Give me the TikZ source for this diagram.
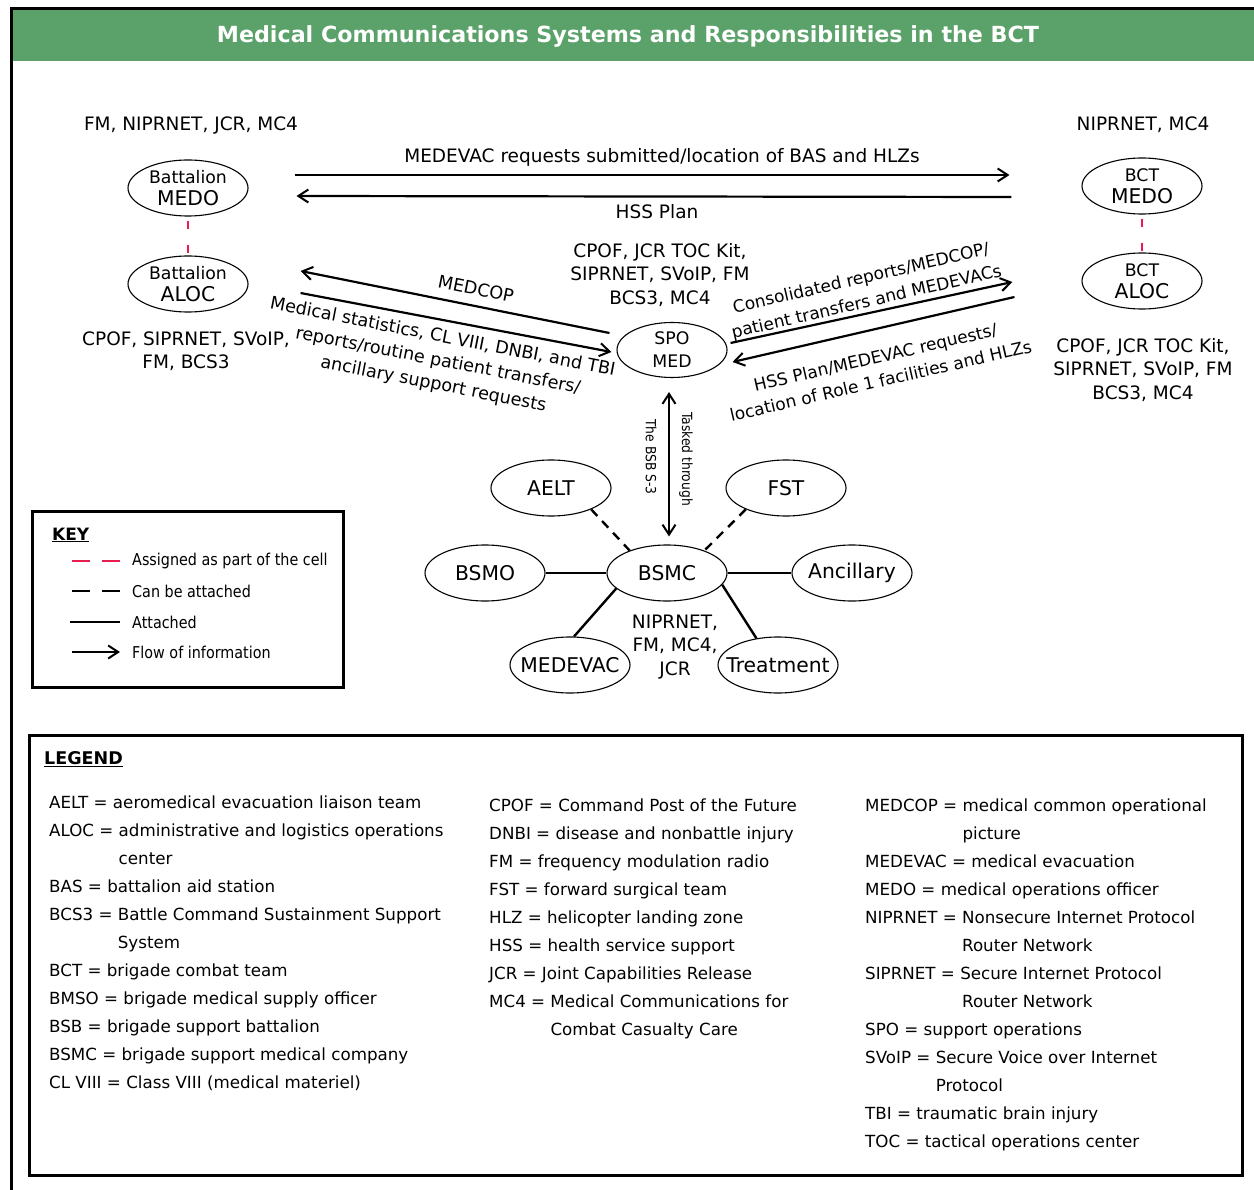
\documentclass[tikz,border=0pt]{standalone}
\usepackage{fontspec}
\setmainfont{DejaVu Sans}
\newfontfamily\condfont[FakeStretch=0.88]{DejaVu Sans}
\usetikzlibrary{shapes.geometric,arrows.meta,calc}
\definecolor{hdrgreen}{RGB}{91,162,106}
\definecolor{cellred}{RGB}{232,28,78}
\begin{document}
\begin{tikzpicture}[x=1pt,y=-1pt,
  ell/.style={draw, line width=1.1pt, ellipse, minimum width=120pt, minimum height=56pt, inner sep=0pt},
  elltxt/.style={align=center, inner sep=0pt, font=\fontsize{20.3}{22.5}\selectfont},
  lbl/.style={align=center, inner sep=0pt, font=\fontsize{18.5}{23.5}\selectfont},
  rlbl/.style={align=center, inner sep=0pt, font=\fontsize{17.6}{24}\selectfont},
  rrlbl/.style={align=center, inner sep=0pt, font=\fontsize{17}{24}\selectfont},
  vlbl/.style={inner sep=0pt, rotate=-90, font=\condfont\fontsize{14}{16}\selectfont},
  flow/.style={line width=2.2pt, -{Straight Barb[length=10pt,width=13pt,line width=2pt]}},
  flowboth/.style={line width=2.2pt, {Straight Barb[length=10pt,width=13pt,line width=2pt]}-{Straight Barb[length=10pt,width=13pt,line width=2pt]}},
  celldash/.style={draw=cellred, line width=2.8pt, dash pattern=on 8pt off 16pt, dash phase=20pt},
  attachdash/.style={line width=2.4pt, dash pattern=on 9pt off 7pt},
  attached/.style={line width=2.4pt},
  keytxt/.style={anchor=west, inner sep=0pt, font=\condfont\fontsize{16.3}{18}\selectfont},
  legtxt/.style={anchor=base west, inner sep=0pt, font=\fontsize{16.7}{18}\selectfont},
  boxline/.style={line width=3pt}
]
\useasboundingbox (0,0) rectangle (1254,1190);
% header and frame
\fill[hdrgreen] (12,10) rectangle (1254,61);
\draw[line width=3pt] (11,1190) -- (11,9) -- (1254,9);
\node[text=white, font=\bfseries\fontsize{22.2}{24}\selectfont] (title) at (628,36) {Medical Communications Systems and Responsibilities in the BCT};

% ellipse nodes
\node[ell, label={[elltxt]center:{{\fontsize{17.3}{20}\selectfont Battalion}\\MEDO}}] (bmedo) at (188,188) {};
\node[ell, label={[elltxt]center:{{\fontsize{17.3}{20}\selectfont Battalion}\\ALOC}}] (baloc) at (188,284) {};
\node[ell, label={[elltxt]center:{{\fontsize{17.3}{20}\selectfont BCT}\\MEDO}}] (bctmedo) at (1142,186) {};
\node[ell, label={[elltxt]center:{{\fontsize{17.3}{20}\selectfont BCT}\\ALOC}}] (bctaloc) at (1142,281) {};
\node[ell, minimum width=110pt, minimum height=55pt, label={[elltxt, font=\fontsize{17.3}{23}\selectfont]center:{SPO\\MED}}] (spo) at (672,350) {};
\node[ell, label={[elltxt]center:AELT}] (aelt) at (551,488) {};
\node[ell, label={[elltxt]center:FST}] (fst) at (786,488) {};
\node[ell, label={[elltxt]center:BSMO}] (bsmo) at (485,573) {};
\node[ell, label={[elltxt]center:BSMC}] (bsmc) at (667,573) {};
\node[ell, label={[elltxt]center:Ancillary}] (anc) at (852,573) {};
\node[ell, label={[elltxt]center:MEDEVAC}] (medevac) at (570,665) {};
\node[ell, label={[elltxt]center:Treatment}] (treat) at (778,665) {};

% red dashed (assigned as part of the cell)
\draw[celldash] (bmedo) -- (baloc);
\draw[celldash] (bctmedo) -- (bctaloc);

% system labels
\node[lbl] (l1) at (191,125) {FM, NIPRNET, JCR, MC4};
\node[lbl] (l2) at (186,351) {CPOF, SIPRNET, SVoIP,\\FM, BCS3};
\node[lbl] (l3) at (660,275) {CPOF, JCR TOC Kit,\\SIPRNET, SVoIP, FM\\BCS3, MC4};
\node[lbl] (l4) at (1143,125) {NIPRNET, MC4};
\node[lbl] (l5) at (1143,370) {CPOF, JCR TOC Kit,\\SIPRNET, SVoIP, FM\\BCS3, MC4};
\node[lbl] (l6) at (675,647) {NIPRNET,\\FM, MC4,\\JCR};

% top arrows
\draw[flow] ($(bmedo.east)+(46,-13)$) -- ($(bctmedo.west)+(-72,-11)$);
\draw[flow] ($(bctmedo.west)+(-70,11)$) -- ($(bmedo.east)+(48,8)$);
\node[lbl] (t1) at (662,157) {MEDEVAC requests submitted/location of BAS and HLZs};
\node[lbl] (t2) at (657,212) {HSS Plan};

% left arrows
\draw[flow] ($(spo.west)+(-7,-17)$) -- ($(baloc.east)+(52,-13)$);
\draw[flow] ($(baloc.east)+(52,9)$) -- ($(spo.west)+(-5,2)$);
\node[rlbl, rotate=-11.3] (t3) at (476,289) {MEDCOP};
\node[rlbl, rotate=-11] (t4) at (438,361) {Medical statistics, CL VIII, DNBI, and TBI\\reports/routine patient transfers/\\ancillary support requests};

% right arrows
\draw[flow] ($(spo.east)+(3,-7)$) -- ($(bctaloc.west)+(-69,1)$);
\draw[flow] ($(bctaloc.west)+(-67,16)$) -- ($(spo.east)+(5,12)$);
\node[rrlbl, rotate=13] (t5) at (864,291) {Consolidated reports/MEDCOP/\\patient transfers and MEDEVACs};
\node[rrlbl, rotate=13] (t6) at (878,369) {HSS Plan/MEDEVAC requests/\\location of Role 1 facilities and HLZs};

% vertical tasking arrow
\draw[flowboth] ($(spo.south)+(-3,14)$) -- ($(bsmc.north)+(2,-8)$);
\node[vlbl] (t7) at (651,457) {The BSB S-3};
\node[vlbl] (t8) at (686,459) {Tasked through};

% BSMC connections
\draw[attachdash] (aelt.-28) -- (bsmc.149);
\draw[attachdash] (fst.-152) -- (bsmc.31);
\draw[attached] (bsmo) -- (bsmc);
\draw[attached] (bsmc) -- (anc);
\draw[attached] (bsmc.-163) -- (medevac.82);
\draw[attached] (bsmc.-12) -- (treat.129);

% KEY
\draw[boxline] (32,511) rectangle (343,687);
\node[anchor=west, inner sep=0pt, font=\bfseries\fontsize{17}{20}\selectfont] (keyt) at (52,535) {\underline{KEY}};
\draw[draw=cellred, line width=2.8pt, dash pattern=on 18pt off 12pt] (72,561) -- (120,561);
\node[keytxt] (k1) at (132,561) {Assigned as part of the cell};
\draw[line width=2.8pt, dash pattern=on 18pt off 12pt] (72,591) -- (120,591);
\node[keytxt] (k2) at (132,591) {Can be attached};
\draw[line width=2.4pt] (70,622) -- (120,622);
\node[keytxt] (k3) at (132,622) {Attached};
\draw[flow] (72,652) -- (120,652);
\node[keytxt] (k4) at (132,652) {Flow of information};

% LEGEND
\draw[boxline] (29,735) rectangle (1242,1175);
\node[anchor=west, inner sep=0pt, font=\bfseries\fontsize{17.5}{20}\selectfont] (legt) at (44,759) {\underline{LEGEND}};

\node[legtxt] at (49,808) {AELT = aeromedical evacuation liaison team};
\node[legtxt] at (49,836) {ALOC = administrative and logistics operations};
\node[legtxt] at (49,864) {\phantom{ALOC = }center};
\node[legtxt] at (49,892) {BAS = battalion aid station};
\node[legtxt] at (49,920) {BCS3 = Battle Command Sustainment Support};
\node[legtxt] at (49,948) {\phantom{BCS3 = }System};
\node[legtxt] at (49,976) {BCT = brigade combat team};
\node[legtxt] at (49,1004) {BMSO = brigade medical supply officer};
\node[legtxt] at (49,1032) {BSB = brigade support battalion};
\node[legtxt] at (49,1060) {BSMC = brigade support medical company};
\node[legtxt] at (49,1088) {CL VIII = Class VIII (medical materiel)};

\node[legtxt] at (489,811) {CPOF = Command Post of the Future};
\node[legtxt] at (489,839) {DNBI = disease and nonbattle injury};
\node[legtxt] at (489,867) {FM = frequency modulation radio};
\node[legtxt] at (489,895) {FST = forward surgical team};
\node[legtxt] at (489,923) {HLZ = helicopter landing zone};
\node[legtxt] at (489,951) {HSS = health service support};
\node[legtxt] at (489,979) {JCR = Joint Capabilities Release};
\node[legtxt] at (489,1007) {MC4 = Medical Communications for};
\node[legtxt] at (489,1035) {\phantom{MC4 = }Combat Casualty Care};

\node[legtxt] at (865,811) {MEDCOP = medical common operational};
\node[legtxt] at (865,839) {\phantom{MEDCOP = }picture};
\node[legtxt] at (865,867) {MEDEVAC = medical evacuation};
\node[legtxt] at (865,895) {MEDO = medical operations officer};
\node[legtxt] at (865,923) {NIPRNET = Nonsecure Internet Protocol};
\node[legtxt] at (865,951) {\phantom{NIPRNET = }Router Network};
\node[legtxt] at (865,979) {SIPRNET = Secure Internet Protocol};
\node[legtxt] at (865,1007) {\phantom{NIPRNET = }Router Network};
\node[legtxt] at (865,1035) {SPO = support operations};
\node[legtxt] at (865,1063) {SVoIP = Secure Voice over Internet};
\node[legtxt] at (865,1091) {\phantom{SVoIP = }Protocol};
\node[legtxt] at (865,1119) {TBI = traumatic brain injury};
\node[legtxt] at (865,1147) {TOC = tactical operations center};
\end{tikzpicture}
\end{document}
